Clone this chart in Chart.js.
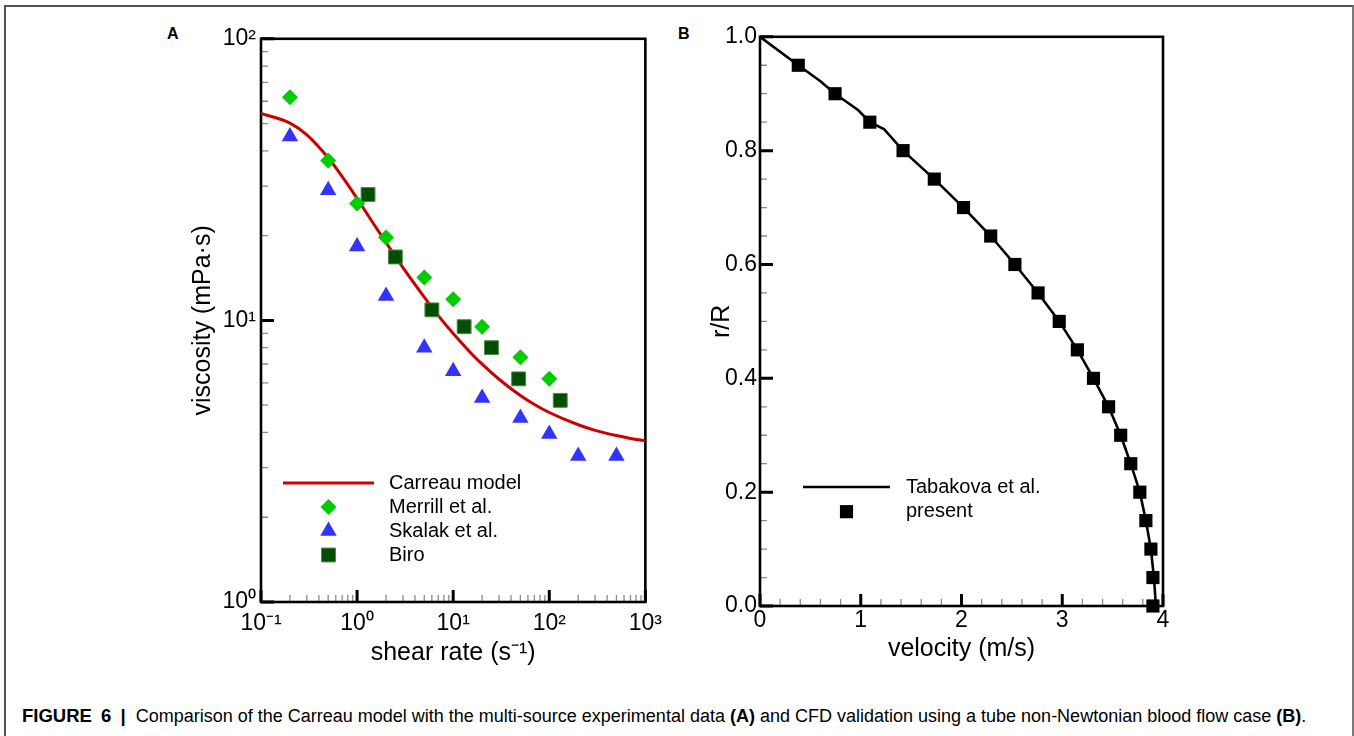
<!DOCTYPE html>
<html>
<head>
<meta charset="utf-8">
<script src="https://cdn.jsdelivr.net/npm/chart.js@4.4.1/dist/chart.umd.min.js"></script>
<style>
  body { margin: 0; background: #fff; width: 1354px; height: 736px; overflow: hidden; position: relative; font-family: 'Liberation Sans', Arial, sans-serif; }
  #frame { position: absolute; left: 4px; top: 5px; width: 1346px; height: 760px; border: 2px solid #555; border-right-color: #7a7a7a; }
  canvas { position: absolute; }
  #chartA { left: 150px; top: 20px; }
  #chartB { left: 660px; top: 20px; }
  .panel { position: absolute; font-weight: bold; font-size: 16px; line-height: 16px; }
  #caption { position: absolute; left: 22px; top: 706px; font-size: 18px; line-height: 20px; white-space: nowrap; color: #000; }
  #caption .fig { font-size: 18.5px; word-spacing: 4px; margin-right: 5px; }
</style>
</head>
<body>
<div id="frame"></div>
<div class="panel" style="left:167px; top:26px;">A</div>
<div class="panel" style="left:678px; top:26px;">B</div>
<canvas id="chartA" width="520" height="660"></canvas>
<canvas id="chartB" width="540" height="660"></canvas>
<div id="caption"><b class="fig">FIGURE 6 |</b> Comparison of the Carreau model with the multi-source experimental data <b>(A)</b> and CFD validation using a tube non-Newtonian blood flow case <b>(B)</b>.</div>
<script>
// panel A - viscosity vs shear rate (log-log)
var shearCarreau = [0.1, 0.2, 0.3, 0.5, 0.7, 1, 1.5, 2, 3, 5, 7, 10, 15, 20, 30, 50, 70, 100, 200, 300, 500, 700, 1000];
var viscCarreau  = [54.3, 50.2, 45.6, 37.8, 32.4, 27.1, 21.9, 18.9, 15.4, 12.1, 10.4, 8.98, 7.71, 6.99, 6.18, 5.41, 5.03, 4.71, 4.26, 4.07, 3.90, 3.81, 3.74];

var shearMerrill = [0.2, 0.5, 1, 2, 5, 10, 20, 50, 100];
var viscMerrill  = [62, 37, 26, 19.7, 14.2, 11.9, 9.5, 7.4, 6.2];

var shearSkalak = [0.2, 0.5, 1, 2, 5, 10, 20, 50, 100, 200, 500];
var viscSkalak  = [45, 29, 18.3, 12.2, 8.0, 6.6, 5.3, 4.5, 3.95, 3.3, 3.3];

var shearBiro = [1.3, 2.5, 6, 13, 25, 48, 130];
var viscBiro  = [28, 16.8, 10.9, 9.5, 8.0, 6.2, 5.2];

var xTicksA = [0.1, 1, 10, 100, 1000];
var xLabelsA = ['10\u207B\u00B9', '10\u2070', '10\u00B9', '10\u00B2', '10\u00B3'];
var yTicksA = [1, 10, 100];
var yLabelsA = ['10\u2070', '10\u00B9', '10\u00B2'];

// panel B - velocity profile
var velTabakova = [0, 0.38, 0.60, 0.745, 0.976, 1.09, 1.23, 1.42, 1.73, 2.02, 2.29, 2.53, 2.76, 2.97, 3.15, 3.31, 3.46, 3.58, 3.68, 3.77, 3.83, 3.88, 3.91, 3.93];
var rTabakova   = [1.0, 0.95, 0.922, 0.9, 0.871, 0.85, 0.838, 0.8, 0.75, 0.7, 0.65, 0.6, 0.55, 0.5, 0.45, 0.4, 0.35, 0.3, 0.25, 0.2, 0.15, 0.1, 0.05, 0.0];

var velPresent = [0.38, 0.745, 1.09, 1.42, 1.73, 2.02, 2.29, 2.53, 2.76, 2.97, 3.15, 3.31, 3.46, 3.58, 3.68, 3.77, 3.83, 3.88, 3.90, 3.90];
var rPresent   = [0.95, 0.9, 0.85, 0.8, 0.75, 0.7, 0.65, 0.6, 0.55, 0.5, 0.45, 0.4, 0.35, 0.3, 0.25, 0.2, 0.15, 0.1, 0.05, 0.0];

var xTicksB = [0, 1, 2, 3, 4];
var xLabelsB = ['0', '1', '2', '3', '4'];
var yTicksB = [0, 0.2, 0.4, 0.6, 0.8, 1.0];
var yLabelsB = ['0.0', '0.2', '0.4', '0.6', '0.8', '1.0'];

function pts(xs, ys) {
  return xs.map(function (x, i) { return { x: x, y: ys[i] }; });
}

// minor tick values
var xMinorA = [], yMinorA = [], xMinorB = [], yMinorB = [];
[0.1, 1, 10, 100].forEach(function (d) { for (var k = 2; k <= 9; k++) xMinorA.push(k * d); });
[1, 10].forEach(function (d) { for (var k = 2; k <= 9; k++) yMinorA.push(k * d); });
for (var i = 1; i < 20; i++) { if (i % 5) xMinorB.push(i * 0.2); }
for (var j = 1; j < 20; j++) { if (j % 4) yMinorB.push(j * 0.05); }

Chart.defaults.font.family = "'Liberation Sans', Arial, sans-serif";
Chart.defaults.color = '#000';

// box round the plot + inward tick marks
var axisFrame = {
  id: 'axisFrame',
  beforeDatasetsDraw: function (chart, args, opts) {
    var ctx = chart.ctx, a = chart.chartArea;
    var xs = chart.scales.x, ys = chart.scales.y;
    ctx.save();
    ctx.lineCap = 'butt';
    ctx.strokeStyle = '#8a8a8a';
    ctx.lineWidth = 1.3;
    ctx.beginPath();
    opts.xMinor.forEach(function (v) {
      var px = xs.getPixelForValue(v);
      ctx.moveTo(px, a.bottom); ctx.lineTo(px, a.bottom - 7);
    });
    opts.yMinor.forEach(function (v) {
      var py = ys.getPixelForValue(v);
      ctx.moveTo(a.left, py); ctx.lineTo(a.left + 7, py);
    });
    ctx.stroke();
    ctx.strokeStyle = '#000';
    ctx.lineWidth = 3;
    ctx.beginPath();
    opts.xMajor.forEach(function (v) {
      var px = xs.getPixelForValue(v);
      ctx.moveTo(px, a.bottom); ctx.lineTo(px, a.bottom - 12);
    });
    opts.yMajor.forEach(function (v) {
      var py = ys.getPixelForValue(v);
      ctx.moveTo(a.left, py); ctx.lineTo(a.left + 13, py);
    });
    ctx.stroke();
    ctx.lineWidth = 2.6;
    ctx.strokeRect(a.left, a.top, a.right - a.left, a.bottom - a.top);
    ctx.restore();
  }
};

// legend drawn inside the plot
var panelLegend = {
  id: 'panelLegend',
  afterDatasetsDraw: function (chart, args, opts) {
    var ctx = chart.ctx;
    ctx.save();
    ctx.font = opts.fontSize + "px 'Liberation Sans', Arial, sans-serif";
    ctx.textBaseline = 'middle';
    chart.data.datasets.forEach(function (ds, i) {
      var y = opts.y + i * opts.rowH;
      if (ds.showLine) {
        ctx.strokeStyle = ds.borderColor;
        ctx.lineWidth = ds.borderWidth;
        ctx.beginPath();
        ctx.moveTo(opts.x, y);
        ctx.lineTo(opts.x + opts.len, y);
        ctx.stroke();
      } else {
        ctx.fillStyle = ds.backgroundColor;
        ctx.strokeStyle = ds.pointBorderColor || ds.backgroundColor;
        ctx.lineWidth = ds.pointBorderWidth || 0;
        Chart.helpers.drawPoint(ctx, {
          pointStyle: ds.pointStyle, radius: ds.pointRadius,
          borderWidth: ds.pointBorderWidth || 0, rotation: 0
        }, opts.x + opts.len / 2, y);
      }
      ctx.fillStyle = '#000';
      ctx.fillText(ds.label, opts.textX, y);
    });
    ctx.restore();
  }
};

new Chart(document.getElementById('chartA'), {
  type: 'scatter',
  data: {
    datasets: [{
      label: 'Carreau model',
      data: pts(shearCarreau, viscCarreau),
      showLine: true,
      borderColor: '#cc0000',
      backgroundColor: '#cc0000',
      borderWidth: 3,
      pointRadius: 0,
      cubicInterpolationMode: 'monotone',
      order: 5
    }, {
      label: 'Merrill et al.',
      data: pts(shearMerrill, viscMerrill),
      showLine: false,
      pointStyle: 'rectRot',
      pointRadius: 8,
      backgroundColor: '#00cc00',
      pointBorderWidth: 0,
      order: 1
    }, {
      label: 'Skalak et al.',
      data: pts(shearSkalak, viscSkalak),
      showLine: false,
      pointStyle: 'triangle',
      pointRadius: 9.5,
      backgroundColor: '#3333ff',
      pointBorderWidth: 0,
      order: 1
    }, {
      label: 'Biro',
      data: pts(shearBiro, viscBiro),
      showLine: false,
      pointStyle: 'rect',
      pointRadius: 9.8,
      backgroundColor: '#004f00',
      pointBorderColor: '#4f864f',
      pointBorderWidth: 1,
      order: 1
    }]
  },
  options: {
    responsive: false,
    animation: false,
    layout: { autoPadding: false, padding: { left: 0, top: 18, right: 22, bottom: 0 } },
    plugins: {
      legend: { display: false },
      tooltip: { enabled: false },
      axisFrame: { xMinor: xMinorA, yMinor: yMinorA, xMajor: xTicksA, yMajor: yTicksA },
      panelLegend: { x: 133, y: 463, len: 91, textX: 239, rowH: 24, fontSize: 20 }
    },
    scales: {
      x: {
        type: 'logarithmic', min: 0.1, max: 1000,
        grid: { display: false, drawTicks: false },
        border: { display: false },
        afterBuildTicks: function (s) { s.ticks = xTicksA.map(function (v) { return { value: v }; }); },
        afterFit: function (s) { s.height = 78; },
        ticks: {
          autoSkip: false, maxRotation: 0, padding: 8, font: { size: 23 },
          callback: function (v, i) { return xLabelsA[i]; }
        },
        title: { display: true, text: 'shear rate (s\u207B\u00B9)', font: { size: 25 }, padding: { top: 0, bottom: 12 } }
      },
      y: {
        type: 'logarithmic', min: 1, max: 100,
        grid: { display: false, drawTicks: false },
        border: { display: false },
        afterBuildTicks: function (s) { s.ticks = yTicksA.map(function (v) { return { value: v }; }); },
        afterFit: function (s) { s.width = 111; },
        ticks: {
          autoSkip: false, padding: 5, font: { size: 23 },
          callback: function (v, i) { return yLabelsA[i]; }
        },
        title: { display: true, text: 'viscosity (mPa\u00B7s)', font: { size: 25 }, padding: { top: 38, bottom: 0 } }
      }
    }
  },
  plugins: [axisFrame, panelLegend]
});

new Chart(document.getElementById('chartB'), {
  type: 'scatter',
  data: {
    datasets: [{
      label: 'Tabakova et al.',
      data: pts(velTabakova, rTabakova),
      showLine: true,
      borderColor: '#000',
      backgroundColor: '#000',
      borderWidth: 2.6,
      pointRadius: 0,
      tension: 0,
      order: 5
    }, {
      label: 'present',
      data: pts(velPresent, rPresent),
      showLine: false,
      pointStyle: 'rect',
      pointRadius: 9.3,
      backgroundColor: '#000',
      pointBorderWidth: 0,
      clip: false,
      order: 1
    }]
  },
  options: {
    responsive: false,
    animation: false,
    layout: { autoPadding: false, padding: { left: 0, top: 16, right: 37, bottom: 0 } },
    plugins: {
      legend: { display: false },
      tooltip: { enabled: false },
      axisFrame: { xMinor: xMinorB, yMinor: yMinorB, xMajor: xTicksB, yMajor: yTicksB },
      panelLegend: { x: 143, y: 467, len: 87, textX: 246, rowH: 24.7, fontSize: 20 }
    },
    scales: {
      x: {
        type: 'linear', min: 0, max: 4,
        grid: { display: false, drawTicks: false },
        border: { display: false },
        afterBuildTicks: function (s) { s.ticks = xTicksB.map(function (v) { return { value: v }; }); },
        afterFit: function (s) { s.height = 74; },
        ticks: {
          autoSkip: false, maxRotation: 0, padding: 1, font: { size: 23 },
          callback: function (v, i) { return xLabelsB[i]; }
        },
        title: { display: true, text: 'velocity (m/s)', font: { size: 25 }, padding: { top: 0, bottom: 16 } }
      },
      y: {
        type: 'linear', min: 0, max: 1,
        grid: { display: false, drawTicks: false },
        border: { display: false },
        afterBuildTicks: function (s) { s.ticks = yTicksB.map(function (v) { return { value: v }; }); },
        afterFit: function (s) { s.width = 100; },
        ticks: {
          autoSkip: false, padding: 3, font: { size: 23 },
          callback: function (v, i) { return yLabelsB[i]; }
        },
        title: { display: true, text: 'r/R', font: { size: 25 }, padding: { top: 47, bottom: 0 } }
      }
    }
  },
  plugins: [axisFrame, panelLegend]
});
</script>
</body>
</html>
